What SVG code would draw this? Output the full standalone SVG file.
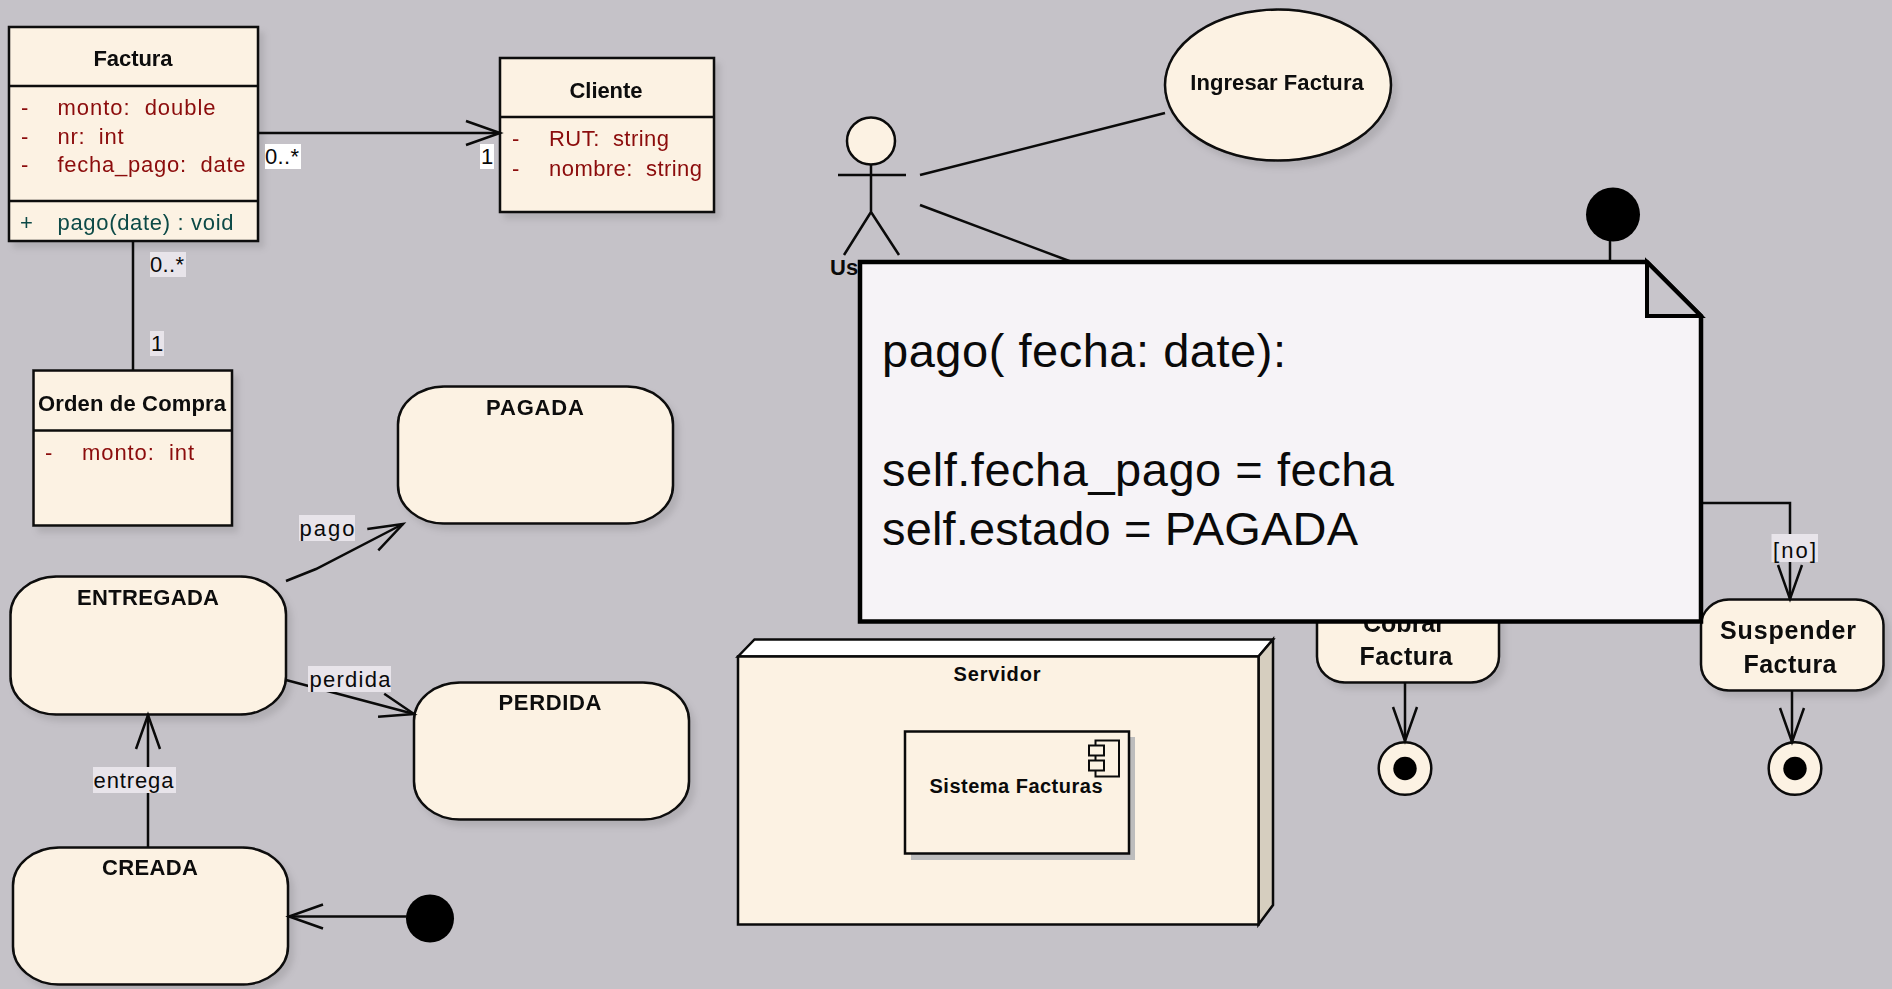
<svg xmlns="http://www.w3.org/2000/svg" width="1892" height="989" viewBox="0 0 1892 989">
<style>
text{font-family:"Liberation Sans",Arial,sans-serif;white-space:pre;fill:#0a0a0a}
.t{font-weight:bold;font-size:22px;text-anchor:middle}
.s{font-size:20px}
.m{font-size:25px}
.a{font-size:22px;fill:#8b0a0a}
.o{font-size:22px;fill:#0a4a46}
.l{font-size:22px}
.n{font-size:47px}
.box{fill:#fcf2e3;stroke:#0a0a0a;stroke-width:2.5}
.sep{stroke:#0a0a0a;stroke-width:2.5;fill:none}
.c{fill:none;stroke:#0a0a0a;stroke-width:2.5}
.arr{marker-end:url(#open)}
.lw{fill:#fff}
.lb{fill:#e8e4ea}
</style>
<defs>
<marker id="open" markerUnits="userSpaceOnUse" markerWidth="40" markerHeight="30" refX="36" refY="14" orient="auto" overflow="visible">
<path d="M2,2 L36,14 L2,26" fill="none" stroke="#0a0a0a" stroke-width="2.5"/>
</marker>
<filter id="sh" x="-10%" y="-10%" width="125%" height="125%">
<feDropShadow dx="5" dy="6" stdDeviation="3" flood-color="#000" flood-opacity="0.1"/>
</filter>
</defs>
<rect width="1892" height="989" fill="#c5c2c8"/>

<g id="factura" filter="url(#sh)">
<rect class="box" x="9" y="27" width="249" height="214"/>
<path class="sep" d="M9,86H258M9,201H258"/>
<text class="t" x="133" y="66" textLength="79">Factura</text>
<text class="a" x="21" y="115">-</text><text class="a" x="57.500" y="115" textLength="158">monto:  double</text>
<text class="a" x="21" y="144">-</text><text class="a" x="57.500" y="144" textLength="66">nr:  int</text>
<text class="a" x="21" y="172">-</text><text class="a" x="57.500" y="172" textLength="188">fecha_pago:  date</text>
<text class="o" x="20" y="230">+</text><text class="o" x="57.500" y="230" textLength="176">pago(date) : void</text>
</g>

<g id="cliente" filter="url(#sh)">
<rect class="box" x="500" y="58" width="214" height="154"/>
<path class="sep" d="M500,117H714"/>
<text class="t" x="606" y="98" textLength="73">Cliente</text>
<text class="a" x="512" y="146">-</text><text class="a" x="549" y="146" textLength="120">RUT:  string</text>
<text class="a" x="512" y="176">-</text><text class="a" x="549" y="176" textLength="153">nombre:  string</text>
</g>

<g id="orden" filter="url(#sh)">
<rect class="box" x="33.500" y="370.500" width="198.500" height="155"/>
<path class="sep" d="M33.500,430.500H232"/>
<text class="t" x="132" y="411" textLength="188">Orden de Compra</text>
<text class="a" x="45" y="460">-</text><text class="a" x="82" y="460" textLength="112">monto:  int</text>
</g>

<g id="pagada" filter="url(#sh)">
<rect class="box" x="398" y="386.500" width="275" height="137" rx="46" ry="38"/>
<text class="t" x="535" y="415" textLength="98">PAGADA</text>
</g>
<g id="entregada" filter="url(#sh)">
<rect class="box" x="10.500" y="576.500" width="275.500" height="138" rx="46" ry="38"/>
<text class="t" x="148" y="605" textLength="142">ENTREGADA</text>
</g>
<g id="perdida" filter="url(#sh)">
<rect class="box" x="414" y="682.500" width="275" height="137" rx="46" ry="38"/>
<text class="t" x="550" y="710" textLength="103">PERDIDA</text>
</g>
<g id="creada" filter="url(#sh)">
<rect class="box" x="13" y="847.500" width="275" height="137" rx="46" ry="38"/>
<text class="t" x="150" y="875" textLength="96">CREADA</text>
</g>
<g id="inicio-estado"><circle cx="430" cy="918.500" r="24" fill="#000"/></g>

<g id="caso-uso" filter="url(#sh)">
<ellipse class="box" cx="1278" cy="85" rx="113" ry="75.500"/>
<text class="t" x="1277" y="90" textLength="173.500">Ingresar Factura</text>
</g>
<g id="actor">
<ellipse class="box" cx="871" cy="141" rx="24" ry="23.500" stroke-width="2"/>
<path class="c" stroke-width="2" d="M871,164V212M838,175H906M871,212L844,255M871,212L899,255"/>
<text class="t" x="830" y="275" style="text-anchor:start" font-size="20">Us</text>
</g>

<g id="servidor">
<path d="M738,656.500L754.500,639.500H1273L1258.500,656.500Z" fill="#fff" stroke="#0a0a0a" stroke-width="2.500"/>
<path d="M1258.500,656.500L1273,639.500V905L1258.500,924.500Z" fill="#d6cebf" stroke="#0a0a0a" stroke-width="2.500"/>
<rect class="box" x="738" y="656.500" width="520.500" height="268"/>
<text class="t s" x="997" y="681" textLength="87">Servidor</text>
</g>
<g id="sistema-facturas">
<rect x="911" y="737" width="224" height="123" fill="#bdbdbd"/>
<rect class="box" x="905" y="731.500" width="224" height="122"/>
<rect x="1095.500" y="740.500" width="23.500" height="36" fill="#fcf2e3" stroke="#0a0a0a" stroke-width="2"/>
<rect x="1089" y="745.500" width="15" height="10" fill="#fcf2e3" stroke="#0a0a0a" stroke-width="2"/>
<rect x="1089" y="760.500" width="15" height="10" fill="#fcf2e3" stroke="#0a0a0a" stroke-width="2"/>
<text class="t s" x="1016" y="793" textLength="173">Sistema Facturas</text>
</g>

<g id="inicio-actividad"><ellipse cx="1613" cy="214.500" rx="27" ry="27" fill="#000"/></g>
<g id="cobrar" filter="url(#sh)">
<rect class="box" x="1317" y="560" width="182" height="122.500" rx="28" ry="26"/>
<text class="t m" x="1404" y="632" textLength="82">Cobrar</text>
<text class="t m" x="1406" y="665" textLength="93">Factura</text>
</g>
<g id="suspender" filter="url(#sh)">
<rect class="box" x="1701" y="599.500" width="182.500" height="91" rx="28" ry="26"/>
<text class="t m" x="1788" y="639" textLength="136">Suspender</text>
<text class="t m" x="1790" y="673" textLength="93">Factura</text>
</g>
<g id="fin-cobrar">
<circle class="box" cx="1405" cy="768.500" r="26.300"/>
<circle cx="1405" cy="768.500" r="11.700" fill="#000"/>
</g>
<g id="fin-suspender">
<circle class="box" cx="1795" cy="768.500" r="26.300"/>
<circle cx="1795" cy="768.500" r="11.700" fill="#000"/>
</g>

<g id="connectors">
<path class="c arr" d="M258,133H500"/>
<path class="c" d="M133,241V370"/>
<path class="c arr" d="M148,847V715"/>
<path class="c arr" d="M286,581L316,569L403,524"/>
<path class="c arr" d="M286,680L414,714"/>
<path class="c arr" d="M407,916.500H289"/>
<path class="c" d="M920,175L1165,113"/>
<path class="c" d="M920,205L1072,262"/>
<path class="c" d="M1610,241V265"/>
<path class="c arr" d="M1700,503H1790V599"/>
<path class="c arr" d="M1405,682V741"/>
<path class="c arr" d="M1792,690V742"/>
<rect class="lw" x="265" y="144" width="36" height="25"/><text class="l" x="265" y="164" textLength="34">0..*</text>
<rect class="lw" x="480" y="144" width="14" height="25"/><text class="l" x="481" y="164">1</text>
<rect class="lb" x="150" y="252" width="36" height="25"/><text class="l" x="150" y="272" textLength="34">0..*</text>
<rect class="lb" x="150" y="331" width="14" height="25"/><text class="l" x="151" y="351">1</text>
<rect class="lb" x="299" y="515" width="56" height="26"/><text class="l" x="299.500" y="536" textLength="55">pago</text>
<rect class="lb" x="308" y="666" width="83" height="26"/><text class="l" x="309.500" y="687" textLength="81">perdida</text>
<rect class="lb" x="93" y="767" width="83" height="26"/><text class="l" x="93.500" y="788" textLength="80">entrega</text>
<rect class="lb" x="1771.500" y="534" width="46.500" height="28"/><text class="l" x="1773" y="558" font-size="24" textLength="43">[no]</text>
</g>

<g id="nota">
<path d="M860,262H1647L1701,316V621.500H860Z" fill="#f6f3f7" stroke="#000" stroke-width="4.500"/>
<path d="M1647,262V316H1701Z" fill="#c8c5cb" stroke="#000" stroke-width="4"/>
<text class="n" x="882" y="367" textLength="404">pago( fecha: date):</text>
<text class="n" x="882" y="486" textLength="512">self.fecha_pago = fecha</text>
<text class="n" x="882" y="545" textLength="476">self.estado = PAGADA</text>
</g>
</svg>
